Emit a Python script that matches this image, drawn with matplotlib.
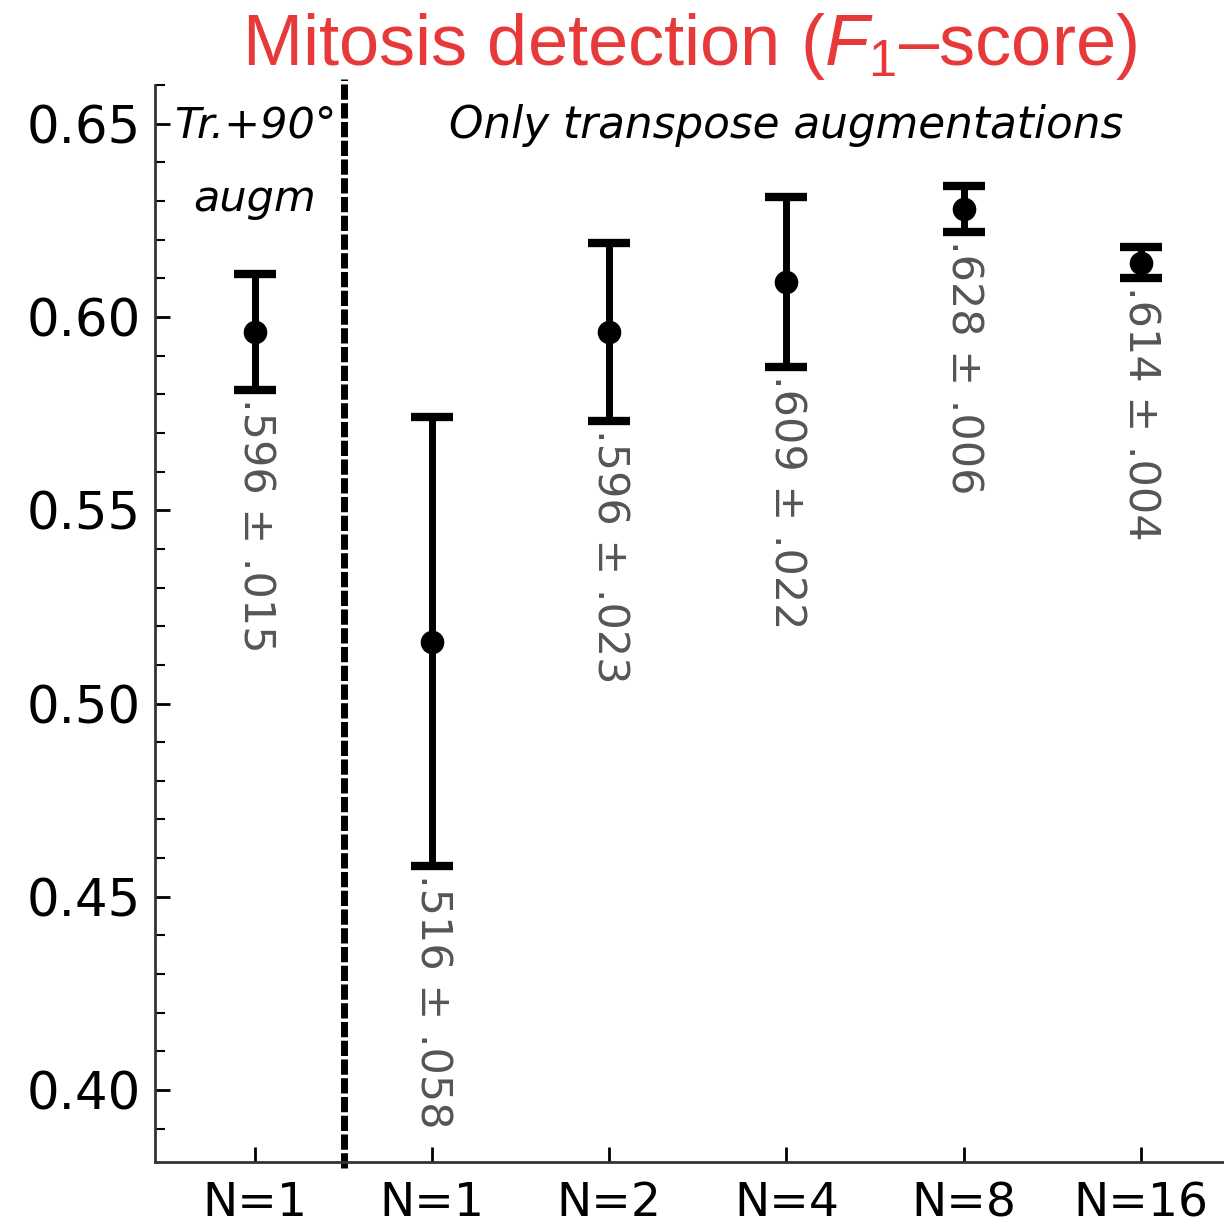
import matplotlib
matplotlib.use("Agg")
import matplotlib.pyplot as plt
from matplotlib.ticker import MultipleLocator

# data
labels = ["N=1", "N=1", "N=2", "N=4", "N=8", "N=16"]
means = [0.596, 0.516, 0.596, 0.609, 0.628, 0.614]
errs = [0.015, 0.058, 0.023, 0.022, 0.006, 0.004]
value_text = [".596 \u00b1 .015", ".516 \u00b1 .058", ".596 \u00b1 .023",
              ".609 \u00b1 .022", ".628 \u00b1 .006", ".614 \u00b1 .004"]

plt.rcParams["font.family"] = ["DejaVu Sans"]
plt.rcParams["mathtext.fontset"] = "custom"
plt.rcParams["mathtext.rm"] = "Liberation Sans"
plt.rcParams["mathtext.it"] = "Liberation Sans:italic"

fig = plt.figure(figsize=(12.24, 12.30), dpi=100)
ax = fig.add_axes([0.1266, 0.0553, 0.8734, 0.8756])

x = list(range(1, len(means) + 1))
ax.errorbar(x, means, yerr=errs, fmt="o", color="black", ms=16,
            elinewidth=5, capsize=15, capthick=6)

for xi, m, e, t in zip(x, means, errs, value_text):
    ax.text(xi, m - e - 0.002, t, rotation=-90, ha="center", va="top",
            fontsize=31, color="#555555")

ax.plot([1.5, 1.5], [-0.006, 1.006], transform=ax.get_xaxis_transform(),
        color="black", lw=5, ls=(0, (2.2, 0.5)), clip_on=False)

ax.text(1, 0.6495, "Tr.+90\u00b0", ha="center", va="center", fontsize=31,
        style="italic")
ax.text(1, 0.6305, "augm", ha="center", va="center", fontsize=31,
        style="italic")
ax.text(4, 0.6495, "Only transpose augmentations", ha="center", va="center",
        fontsize=31.5, style="italic")

ax.set_xlim(0.435, 6.47)
ax.set_ylim(0.3814, 0.660)
ax.set_xticks(x)
ax.set_xticklabels(labels)
ax.yaxis.set_major_locator(MultipleLocator(0.05))
ax.yaxis.set_minor_locator(MultipleLocator(0.01))
ax.yaxis.set_major_formatter(plt.FormatStrFormatter("%.2f"))
ax.tick_params(axis="y", which="major", direction="in", length=11, width=2,
               labelsize=37, pad=10)
ax.tick_params(axis="y", which="minor", direction="in", length=7, width=1.5)
ax.tick_params(axis="x", which="major", direction="in", length=11, width=2,
               labelsize=34, pad=14)
ax.spines["top"].set_visible(False)
ax.spines["right"].set_visible(False)
ax.spines["left"].set_linewidth(2)
ax.spines["bottom"].set_linewidth(2)
ax.spines["left"].set_color("#333333")
ax.spines["bottom"].set_color("#333333")

fig.text(0.5634, 0.962, "Mitosis detection ($F_1$\u2013score)",
         ha="center", va="center", fontsize=52, color="#e8393a",
         family="Liberation Sans")

fig.savefig("out.png", dpi=100)
